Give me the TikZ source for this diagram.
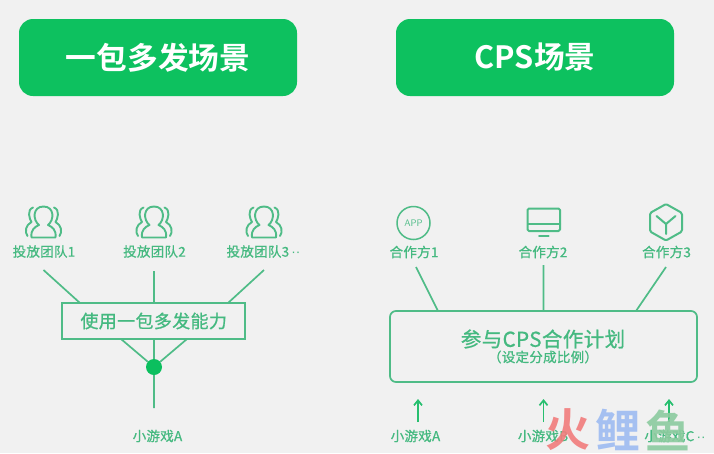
\documentclass[tikz,border=0pt]{standalone}
\usepackage{fontspec}
\newfontfamily\cjk[BoldFont={Noto Sans CJK SC Bold}]{Noto Sans CJK SC}
\newfontfamily\cjkm[FakeBold=0.9,LetterSpace=2]{Noto Sans CJK SC}
\newfontfamily\dotsfont{Liberation Sans}
\usetikzlibrary{arrows.meta}
\definecolor{bgc}{HTML}{F1F1F1}
\definecolor{titlec}{HTML}{0DC15F}
\definecolor{linec}{HTML}{4FBC87}
\definecolor{textc}{HTML}{45B980}
\definecolor{dotc}{HTML}{0BBF5E}
\definecolor{wmr}{HTML}{F27C7C}
\definecolor{wmb}{HTML}{9DBBF2}
\definecolor{wmg}{HTML}{8CCB9F}
\tikzset{
  titlebox/.style={fill=titlec,rounded corners=14pt,minimum width=278pt,minimum height=77pt,inner sep=0pt,text=white,font=\cjk\bfseries\fontsize{30.7}{31}\selectfont},
  lab/.style={text=textc,inner sep=0pt,font=\cjkm\fontsize{13.5}{14}\selectfont},
  conn/.style={draw=linec,line width=1.7pt},
  icon/.style={draw=linec,line width=1.9pt,line join=round,line cap=round},
  wm/.style={inner sep=0pt,opacity=.9,font=\cjk\bfseries\fontsize{45}{45}\selectfont},
  arrowline/.style={conn,draw=titlec!60!linec,-{Straight Barb[length=5pt,width=8pt]}}
}
\newcommand{\people}[1]{%
  \begin{scope}[shift={(#1,0)}]
    \draw[icon] (-12,237.5) -- (12,237.5) .. controls (13,230) and (9,227) .. (4.5,225)
      .. controls (11,220) and (11,206.5) .. (0,206.5) .. controls (-11,206.5) and (-11,220) .. (-4.5,225)
      .. controls (-9,227) and (-13,230) .. (-12,237.5) -- cycle;
    \draw[icon] (-10.5,207.5) .. controls (-17,210) and (-14,219) .. (-12,222) .. controls (-18,225) and (-19,232) .. (-16,236);
    \draw[icon] (10.5,207.5) .. controls (17,210) and (14,219) .. (12,222) .. controls (18,225) and (19,232) .. (16,236);
  \end{scope}}
\begin{document}
\begin{tikzpicture}[x=1pt,y=-1pt]
\useasboundingbox (0,0) rectangle (714,453);
\fill[bgc] (0,0) rectangle (714,453);
\node[titlebox] (t1) at (158,57.5) {一包多发场景};
\node[titlebox] (t2) at (535,57.5) {CPS场景};

% left
\people{43.5}\people{154}\people{264}
\node[lab] (l1) at (44,251.5) {投放团队1};
\node[lab] (l2) at (154.5,251.5) {投放团队2};
\node[lab] (l3) at (263.5,251.5) {投放团队3{\dotsfont\,··}};
\node[draw=linec,line width=1.7pt,minimum width=183pt,minimum height=36pt,inner sep=0pt,text=textc,
  font=\cjkm\fontsize{18}{18}\selectfont] (mid) at (153.7,321) {使用一包多发能力};
\coordinate (a1) at (43.5,270); \coordinate (a2) at (154,271); \coordinate (a3) at (264,270);
\coordinate (b1) at (80,303); \coordinate (b2) at (154,303); \coordinate (b3) at (228,303);
\coordinate (c1) at (121,339); \coordinate (c2) at (154,339); \coordinate (c3) at (187,339);
\coordinate (e) at (154,408);
\draw[conn] (a1)--(b1) (a2)--(b2) (a3)--(b3);
\node[circle,fill=dotc,minimum size=16pt,inner sep=0pt] (hub) at (154,367) {};
\draw[conn] (c1)--(hub) (c2)--(hub) (c3)--(hub) (hub)--(e);
\node[lab] (g0) at (157.5,436) {小游戏A};

% right
\node[draw=linec,line width=1.5pt,circle,minimum size=33pt,inner sep=0pt,text=linec,font=\sffamily\fontsize{9.5}{10}\selectfont] (app) at (413.5,223) {APP};
\draw[icon,rounded corners=1.5pt,line width=2pt] (527.5,208.5) rectangle (560,231);
\draw[icon,line width=2pt] (528,223.5) -- (560,223.5);
\draw[icon,line width=2pt] (539,235.5) -- (548.5,235.5);
\draw[icon,line width=2pt,rounded corners=1.5pt] (666,204) -- (682,213) -- (682,231.5) -- (666,240.5) -- (650,231.5) -- (650,213) -- cycle;
\draw[icon,line width=2pt] (656.5,216) -- (666,224) -- (675.5,216) (666,224) -- (666,234);
\node[lab] (p1) at (414,252) {合作方1};
\node[lab] (p2) at (543,252) {合作方2};
\node[lab] (p3) at (666.5,252) {合作方3};
\node[draw=linec,line width=1.7pt,rounded corners=6pt,minimum width=307pt,minimum height=71pt,inner sep=0pt] (cps) at (543.5,346.5) {};
\node[text=textc,inner sep=0pt,font=\cjkm\fontsize{20.5}{21}\selectfont] (cpsa) at (543,339) {参与CPS合作计划};
\node[text=textc,inner sep=0pt,font=\cjkm\fontsize{13.5}{14}\selectfont] (cpsb) at (543,357) {（设定分成比例）};
\coordinate (d1) at (416,267); \coordinate (d2) at (543.5,265); \coordinate (d3) at (666,267);
\coordinate (f1) at (438,311); \coordinate (f2) at (543.5,311); \coordinate (f3) at (636,311);
\draw[conn] (d1)--(f1) (d2)--(f2) (d3)--(f3);
\coordinate (u1) at (418,422); \coordinate (v1) at (418,399);
\coordinate (u2) at (543.5,422); \coordinate (v2) at (543.5,399);
\coordinate (u3) at (669,422); \coordinate (v3) at (669,399);
\draw[arrowline] (u1)--(v1);
\draw[arrowline] (u2)--(v2);
\draw[arrowline] (u3)--(v3);
\node[lab] (g1) at (415.5,436) {小游戏A};
\node[lab] (g2) at (543,436) {小游戏B};
\node[lab] (g3) at (675,436) {小游戏C{\dotsfont\,··}};

% watermark
\node[wm,text=wmr] (w1) at (568,430) {火};
\node[wm,text=wmb] (w2) at (618,430) {鲤};
\node[wm,text=wmg] (w3) at (668,430) {鱼};
\end{tikzpicture}
\end{document}
